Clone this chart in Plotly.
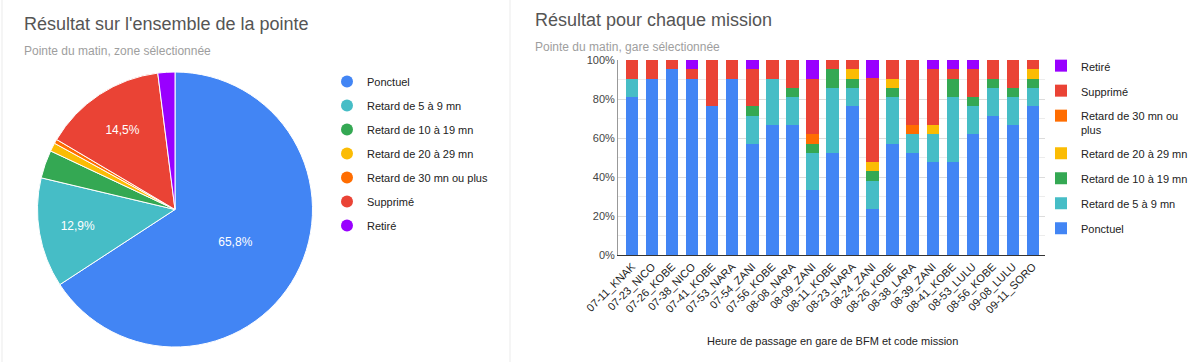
import plotly.graph_objects as go

# ---------------- data ----------------
categories = ["Ponctuel", "Retard de 5 à 9 mn", "Retard de 10 à 19 mn",
              "Retard de 20 à 29 mn", "Retard de 30 mn ou plus", "Supprimé", "Retiré"]
bar_legend_names = ["Ponctuel", "Retard de 5 à 9 mn", "Retard de 10 à 19 mn",
                    "Retard de 20 à 29 mn", "Retard de 30 mn ou<br>plus", "Supprimé", "Retiré"]
colors = ["#4285F4", "#46BDC6", "#34A853", "#FBBC04", "#FF6D01", "#EA4335", "#9900FF"]

pie_values = [65.8, 12.9, 3.3, 1.0, 0.5, 14.5, 2.0]

missions = ["07-11_KNAK", "07-23_NICO", "07-26_KOBE", "07-38_NICO", "07-41_KOBE",
            "07-53_NARA", "07-54_ZANI", "07-56_KOBE", "08-08_NARA", "08-09_ZANI",
            "08-11_KOBE", "08-23_NARA", "08-24_ZANI", "08-26_KOBE", "08-38_LARA",
            "08-39_ZANI", "08-41_KOBE", "08-53_LULU", "08-56_KOBE", "09-08_LULU",
            "09-11_SORO"]

ponctuel   = [81.0, 90.5, 95.2, 90.5, 76.2, 90.5, 57.1, 66.7, 66.7, 33.3, 52.4,
              76.2, 23.8, 57.1, 52.4, 47.6, 47.6, 61.9, 71.4, 66.7, 76.2]
retard_5   = [9.5, 0, 0, 0, 0, 0, 14.3, 23.8, 14.3, 19.0, 33.3,
              9.5, 14.3, 23.8, 9.5, 14.3, 33.3, 14.3, 14.3, 14.3, 9.5]
retard_10  = [0, 0, 0, 0, 0, 0, 4.8, 0, 4.8, 4.8, 9.5,
              4.8, 4.8, 4.8, 0, 0, 9.5, 4.8, 4.8, 4.8, 4.8]
retard_20  = [0, 0, 0, 0, 0, 0, 0, 0, 0, 0, 0,
              4.8, 4.8, 4.8, 0, 4.8, 0, 0, 0, 0, 4.8]
retard_30  = [0, 0, 0, 0, 0, 0, 0, 0, 0, 4.8, 0,
              0, 0, 0, 4.8, 0, 0, 0, 0, 0, 0]
supprime   = [9.5, 9.5, 4.8, 4.8, 23.8, 9.5, 19.0, 9.5, 14.3, 28.6, 4.8,
              4.8, 42.9, 9.5, 33.3, 28.6, 4.8, 14.3, 9.5, 14.3, 4.8]
retire     = [0, 0, 0, 4.8, 0, 0, 4.8, 0, 0, 9.5, 0,
              0, 9.5, 0, 0, 4.8, 4.8, 4.8, 0, 0, 0]

series = [ponctuel, retard_5, retard_10, retard_20, retard_30, supprime, retire]

y_ticks = [0, 20, 40, 60, 80, 100]
y_tick_labels = ["0%", "20%", "40%", "60%", "80%", "100%"]

W, H = 1200, 362


def px(x):
    return x / W


def py(y):
    return 1 - y / H


fig = go.Figure()

# ---------------- pie ----------------
pie_text = [f"{v:.1f}%".replace(".", ",") if v >= 5 else "" for v in pie_values]
fig.add_trace(go.Pie(
    labels=categories, values=pie_values, sort=False, direction="clockwise",
    rotation=0, marker=dict(colors=colors, line=dict(color="white", width=1)),
    text=pie_text, textinfo="text", textposition="inside",
    insidetextorientation="horizontal",
    textfont=dict(color="white", size=12, family="Liberation Sans, Arial"),
    domain=dict(x=[px(37), px(313)], y=[py(347), py(72)]),
    showlegend=False, hoverinfo="label+percent",
))

# ---------------- stacked bars ----------------
n = len(series)
for i, (vals, name, col) in enumerate(zip(series, bar_legend_names, colors)):
    fig.add_trace(go.Bar(
        x=missions, y=vals, name=name, marker=dict(color=col, line=dict(width=0)),
        legend="legend2", legendgroup=f"b{i}", legendrank=100 + (n - i),
    ))

# legend entries (circles) for the pie
for i, (lab, col) in enumerate(zip(categories, colors)):
    fig.add_trace(go.Scatter(
        x=[None], y=[None], mode="markers", name=lab,
        marker=dict(color=col, size=12, symbol="circle"),
        legend="legend", legendgroup=f"p{i}", showlegend=True,
    ))

fig.update_layout(
    width=W, height=H, margin=dict(l=0, r=0, t=0, b=0, autoexpand=False),
    paper_bgcolor="white", plot_bgcolor="white",
    font=dict(family="Liberation Sans, Arial", size=11, color="#222222"),
    barmode="stack", bargap=0.38,
    xaxis=dict(type="category", domain=[px(618), px(1045)], tickangle=-45,
               range=[-0.7, 20.6], automargin=False,
               tickfont=dict(size=11, color="#222222"),
               showline=True, linecolor="#333333", linewidth=1,
               ticks="", showgrid=False),
    yaxis=dict(domain=[py(255), py(60)], range=[0, 100], automargin=False,
               tickmode="array", tickvals=y_ticks, ticktext=y_tick_labels,
               tickfont=dict(size=11, color="#444444"),
               showgrid=True, gridcolor="#dcdcdc", zeroline=False,
               minor=dict(dtick=10, showgrid=True, gridcolor="#ececec"),
               showline=True, linecolor="#999999", ticks=""),
    legend=dict(x=px(327), y=py(67), xanchor="left", yanchor="top",
                font=dict(size=11, color="#222222"),
                traceorder="grouped", tracegroupgap=5, bgcolor="rgba(0,0,0,0)"),
    legend2=dict(x=px(1041), y=py(52), xanchor="left", yanchor="top",
                 font=dict(size=11, color="#222222"), valign="top",
                 traceorder="grouped", tracegroupgap=6,
                 bgcolor="rgba(0,0,0,0)"),
    shapes=[
        dict(type="line", xref="paper", yref="paper", x0=px(510), x1=px(510),
             y0=0, y1=1, line=dict(color="#ebebeb", width=1)),
        dict(type="line", xref="paper", yref="paper", x0=px(2), x1=px(2),
             y0=0, y1=1, line=dict(color="#ebebeb", width=1)),
    ],
    annotations=[
        dict(text="Résultat sur l'ensemble de la pointe", x=px(22), y=py(24),
             xref="paper", yref="paper", xanchor="left", yanchor="middle",
             showarrow=False, font=dict(size=18, color="#555555")),
        dict(text="Pointe du matin, zone sélectionnée", x=px(22), y=py(51),
             xref="paper", yref="paper", xanchor="left", yanchor="middle",
             showarrow=False, font=dict(size=12, color="#9e9e9e")),
        dict(text="Résultat pour chaque mission", x=px(533), y=py(20),
             xref="paper", yref="paper", xanchor="left", yanchor="middle",
             showarrow=False, font=dict(size=18, color="#555555")),
        dict(text="Pointe du matin, gare sélectionnée", x=px(533), y=py(47),
             xref="paper", yref="paper", xanchor="left", yanchor="middle",
             showarrow=False, font=dict(size=12, color="#9e9e9e")),
        dict(text="Heure de passage en gare de BFM et code mission", x=px(832), y=py(341),
             xref="paper", yref="paper", xanchor="center", yanchor="middle",
             showarrow=False, font=dict(size=11, color="#222222")),
    ],
)

fig.write_html("out.html", config={"displayModeBar": False},
               post_script="document.body.style.margin='0';")
